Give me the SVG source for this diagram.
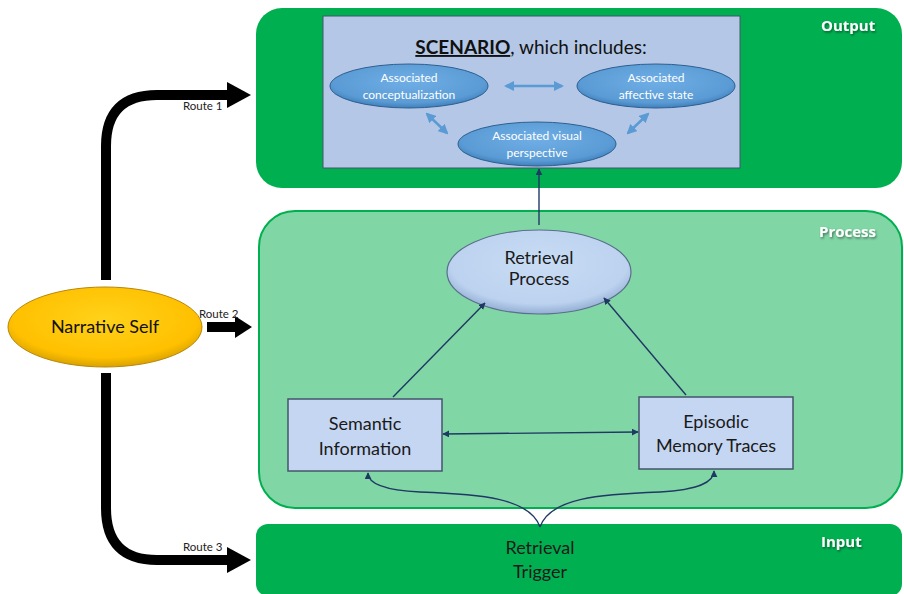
<svg xmlns="http://www.w3.org/2000/svg" width="904" height="594" viewBox="0 0 904 594">
<style>
.lbl{font-family:"Open Sans","Liberation Sans",sans-serif;font-weight:bold;fill:#fff;font-size:15px}
.t{font-family:Lato,"Liberation Sans",sans-serif;fill:#1a1a1a;font-size:18px;text-anchor:middle}
.st{font-family:Lato,"Liberation Sans",sans-serif;fill:#fff;font-size:12px;text-anchor:middle}
.rt{font-family:Lato,"Liberation Sans",sans-serif;fill:#222;font-size:11.5px}
.thin{stroke:#1f3864;stroke-width:1.4;fill:none}
.blue2{stroke:#5b9bd5;stroke-width:2.5;fill:none}
.route{stroke:#000;stroke-width:10;fill:none}
</style>
<defs>
<marker id="ah" viewBox="0 0 10 10" refX="9" refY="5" markerWidth="7" markerHeight="7" markerUnits="userSpaceOnUse" orient="auto-start-reverse"><path d="M0,0 L10,5 L0,10 z" fill="#1f3864"/></marker>
<marker id="bh" viewBox="0 0 10 10" refX="8" refY="5" markerWidth="4" markerHeight="4" orient="auto-start-reverse"><path d="M0,0 L10,5 L0,10 z" fill="#5b9bd5"/></marker>
<radialGradient id="gy" cx="50%" cy="40%" r="60%"><stop offset="0" stop-color="#ffd21a"/><stop offset="0.8" stop-color="#ffc000"/><stop offset="1" stop-color="#d9a300"/></radialGradient>
<radialGradient id="gb" cx="50%" cy="40%" r="60%"><stop offset="0" stop-color="#6faee5"/><stop offset="0.8" stop-color="#5b9bd5"/><stop offset="1" stop-color="#3f7fba"/></radialGradient>
<radialGradient id="gl" cx="50%" cy="40%" r="60%"><stop offset="0" stop-color="#c9dcf4"/><stop offset="0.8" stop-color="#bcd2ef"/><stop offset="1" stop-color="#93aed3"/></radialGradient>
<filter id="sh" x="-10%" y="-10%" width="130%" height="140%"><feDropShadow dx="1" dy="1.5" stdDeviation="1" flood-color="#000" flood-opacity="0.45"/></filter>
</defs>

<g id="output">
<rect x="256" y="8" width="646" height="180" rx="26" fill="#00b050"/>
<text class="lbl" x="821" y="31" filter="url(#sh)">Output</text>
</g>
<g id="scenario">
<rect x="323" y="16" width="417" height="152" fill="#b4c7e7" stroke="#44546a" stroke-width="1"/>
<text x="531" y="54" font-family="Lato,'Liberation Sans',sans-serif" font-size="19" text-anchor="middle" fill="#111"><tspan font-weight="bold" text-decoration="underline">SCENARIO</tspan>, which includes:</text>
</g>
<g id="conceptualization">
<ellipse cx="409" cy="86" rx="79" ry="22" fill="url(#gb)" stroke="#2e5f8f" stroke-width="1"/>
<text class="st" x="409" y="82">Associated</text>
<text class="st" x="409" y="99">conceptualization</text>
</g>
<g id="affective">
<ellipse cx="656" cy="86" rx="79" ry="22" fill="url(#gb)" stroke="#2e5f8f" stroke-width="1"/>
<text class="st" x="656" y="82">Associated</text>
<text class="st" x="656" y="99">affective state</text>
</g>
<g id="visual">
<ellipse cx="537" cy="144" rx="79" ry="22" fill="url(#gb)" stroke="#2e5f8f" stroke-width="1"/>
<text class="st" x="537" y="140">Associated visual</text>
<text class="st" x="537" y="157">perspective</text>
</g>

<g id="process">
<rect x="259" y="211" width="643" height="297" rx="36" fill="#80d6a5" stroke="#00b050" stroke-width="2"/>
<text class="lbl" x="819" y="237" filter="url(#sh)">Process</text>
</g>
<g id="retrieval">
<ellipse cx="539" cy="272" rx="92" ry="42" fill="url(#gl)" stroke="#5a6f8c" stroke-width="1.2"/>
<text class="t" x="539" y="264">Retrieval</text>
<text class="t" x="539" y="285">Process</text>
</g>
<g id="semantic">
<rect x="288" y="399" width="154" height="72" fill="#c5d6f2" stroke="#44546a" stroke-width="1.5"/>
<text class="t" x="365" y="430">Semantic</text>
<text class="t" x="365" y="455">Information</text>
</g>
<g id="episodic">
<rect x="639" y="397" width="154" height="72" fill="#c5d6f2" stroke="#44546a" stroke-width="1.5"/>
<text class="t" x="716" y="428">Episodic</text>
<text class="t" x="716" y="452">Memory Traces</text>
</g>

<g id="input">
<rect x="256" y="524" width="646" height="72" rx="12" fill="#00b050"/>
<text class="lbl" x="821" y="547" filter="url(#sh)">Input</text>
<text class="t" x="540" y="554">Retrieval</text>
<text class="t" x="540" y="578">Trigger</text>
</g>

<g id="narrative">
<ellipse cx="105" cy="327" rx="97" ry="40" fill="url(#gy)" stroke="#b8860b" stroke-width="1"/>
<text x="105" y="333" font-family="Lato,'Liberation Sans',sans-serif" font-size="18" text-anchor="middle" fill="#111">Narrative Self</text>
</g>

<g id="connectors">
<path class="thin" d="M539,225 V169" marker-end="url(#ah)"/>
<path class="thin" d="M393,397 L485,303" marker-end="url(#ah)"/>
<path class="thin" d="M686,395 L604,298" marker-end="url(#ah)"/>
<path class="thin" d="M443,434 L638,432" marker-start="url(#ah)" marker-end="url(#ah)"/>
<path class="thin" d="M540,527 C530,498 480,494 420,492 C380,490 368,482 368,473" marker-end="url(#ah)"/>
<path class="thin" d="M540,527 C550,498 600,494 660,492 C700,490 714,481 714,471" marker-end="url(#ah)"/>
<path class="blue2" d="M506,86 H562" marker-start="url(#bh)" marker-end="url(#bh)"/>
<path class="blue2" d="M427,114 L447,133" marker-start="url(#bh)" marker-end="url(#bh)"/>
<path class="blue2" d="M648,114 L628,133" marker-start="url(#bh)" marker-end="url(#bh)"/>
<path class="route" d="M106,280 V146 Q106,95 157,95 H230"/>
<path d="M227,82 L251,95 L227,108 z"/>
<path class="route" d="M207,327 H236"/>
<path d="M235,316 L252,327 L235,338 z"/>
<path class="route" d="M106,373 V508 Q106,560 157,560 H230"/>
<path d="M227,547 L251,560 L227,573 z"/>
<text class="rt" x="183" y="110">Route 1</text>
<text class="rt" x="199" y="318">Route 2</text>
<text class="rt" x="183" y="551">Route 3</text>
</g>
</svg>
